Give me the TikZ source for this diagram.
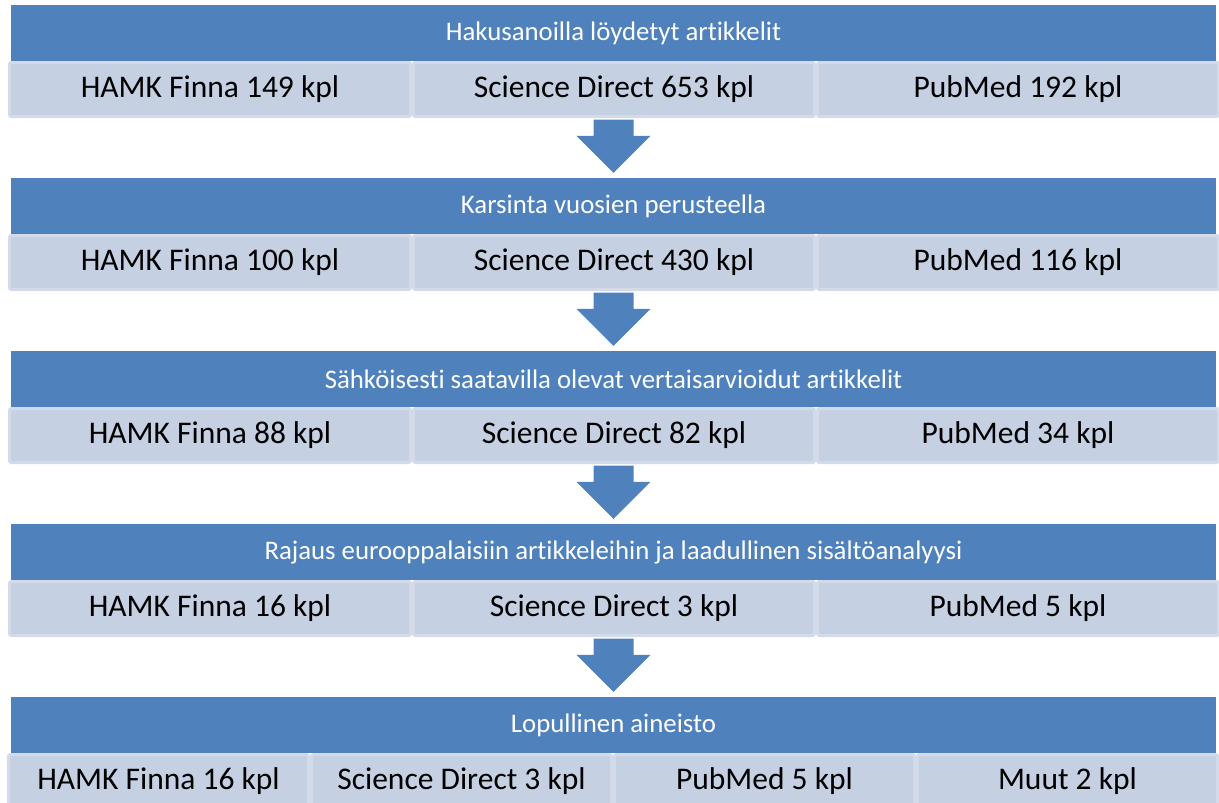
\documentclass[tikz,border=0pt]{standalone}
\usepackage{fontspec}
\setmainfont{Carlito}[Ligatures=NoCommon]
\usetikzlibrary{calc}
\definecolor{hdrblue}{HTML}{4F81BD}
\definecolor{cellfill}{HTML}{C5D0E3}
\definecolor{celledge}{HTML}{D3DBEA}
\tikzset{
  header/.style={fill=hdrblue, text=white, minimum width=1205pt, minimum height=56pt, inner sep=0pt, font=\fontsize{26.8}{30}\selectfont},
  cell/.style={fill=cellfill, draw=celledge, line width=3pt, rounded corners=2pt, minimum height=54pt, minimum width=401pt, inner sep=0pt, font=\fontsize{31.5}{36}\selectfont},
  smallcell/.style={cell, minimum width=300pt}
}

\begin{document}
\begin{tikzpicture}[x=1pt,y=-1pt]
    \useasboundingbox (0,0) rectangle (1219,803);
    % Step 1
    \node[header] (h1) at (613.5,33) {Hakusanoilla löydetyt artikkelit};
    \node[cell] (a1) at (210,89.5) {HAMK Finna 149 kpl};
    \node[cell] (b1) at (614,89.5) {Science Direct 653 kpl};
    \node[cell] (c1) at (1018,89.5) {PubMed 192 kpl};
    % Step 2
    \node[header] (h2) at (613.5,206) {Karsinta vuosien perusteella};
    \node[cell] (a2) at (210,262.5) {HAMK Finna 100 kpl};
    \node[cell] (b2) at (614,262.5) {Science Direct 430 kpl};
    \node[cell] (c2) at (1018,262.5) {PubMed 116 kpl};
    % Step 3
    \node[header] (h3) at (613.5,379) {Sähköisesti saatavilla olevat vertaisarvioidut artikkelit};
    \node[cell] (a3) at (210,435.5) {HAMK Finna 88 kpl};
    \node[cell] (b3) at (614,435.5) {Science Direct 82 kpl};
    \node[cell] (c3) at (1018,435.5) {PubMed 34 kpl};
    % Step 4
    \node[header] (h4) at (613.5,552) {Rajaus eurooppalaisiin artikkeleihin ja laadullinen sisältöanalyysi};
    \node[cell] (a4) at (210,608.5) {HAMK Finna 16 kpl};
    \node[cell] (b4) at (614,608.5) {Science Direct 3 kpl};
    \node[cell] (c4) at (1018,608.5) {PubMed 5 kpl};
    % Final material
    \node[header] (h5) at (613.5,725) {Lopullinen aineisto};
    \node[smallcell] (a5) at (158.5,781.5) {HAMK Finna 16 kpl};
    \node[smallcell] (b5) at (461.5,781.5) {Science Direct 3 kpl};
    \node[smallcell] (c5) at (764.5,781.5) {PubMed 5 kpl};
    \node[smallcell] (d5) at (1067.5,781.5) {Muut 2 kpl};
    % Block arrows between the steps
    \foreach \a/\b in {1/2,2/3,3/4,4/5}{
        \coordinate (tip\b) at ($(h\b.north)+(0,-5)$);
        \coordinate (top\b) at ($(b\a.south -| tip\b)+(0,1.5)$);
        \fill[hdrblue] ($(top\b)+(-20,0)$) -- ++(40,0) -- ($(tip\b)+(20,-37)$) -- ++(17,0)
            -- (tip\b) -- ++(-37,-37) -- ++(17,0) -- cycle;
    }
\end{tikzpicture}
\end{document}
